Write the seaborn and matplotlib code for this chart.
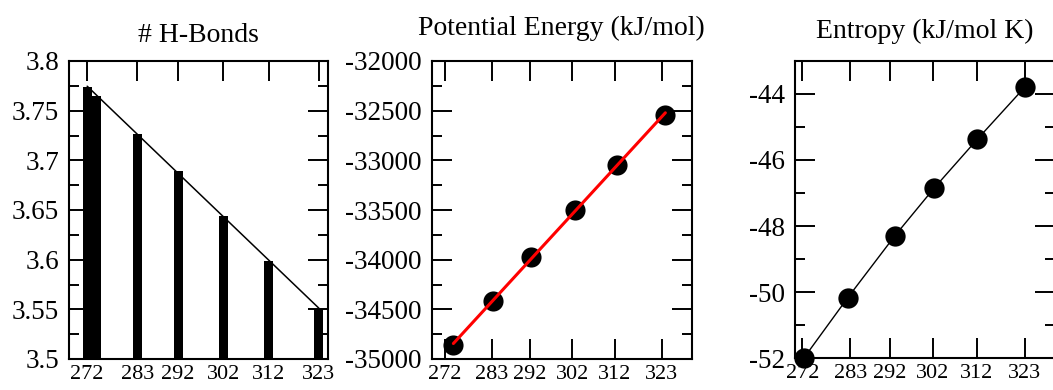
import matplotlib
matplotlib.use("Agg")
import matplotlib.pyplot as plt
from matplotlib.ticker import MultipleLocator, FormatStrFormatter, FuncFormatter
import seaborn as sns

# Hydrogen bonds per molecule vs temperature
hb_temps = [272, 274, 283, 292, 302, 312, 323]
hb_values = [3.7735, 3.765, 3.727, 3.689, 3.644, 3.599, 3.550]

# Potential energy (kJ/mol) vs temperature
pe_temps = [274.0, 283.3, 292.2, 302.6, 312.6, 323.9]
pe_values = [-34860, -34415, -33977, -33501, -33042, -32539]

# Entropy (kJ/mol K) vs temperature
s_temps = [272.4, 282.4, 293.2, 302.2, 312.2, 323.0]
s_values = [-51.98, -50.17, -48.30, -46.86, -45.37, -43.81]

temp_ticks = [272, 283, 292, 302, 312, 323]
titles = ["# H-Bonds", "Potential Energy (kJ/mol)", "Entropy (kJ/mol K)"]

sns.set_style("ticks")
plt.rcParams["font.family"] = ["Liberation Serif", "DejaVu Serif"]
plt.rcParams["axes.unicode_minus"] = False
plt.rcParams["axes.linewidth"] = 1.5
for key in ("text.color", "axes.labelcolor", "xtick.color", "ytick.color",
            "axes.edgecolor"):
    plt.rcParams[key] = "black"

W, H = 1053, 390
fig = plt.figure(figsize=(W / 100, H / 100), dpi=100)


def make_axes(left, right, top=61, bottom=359):
    return fig.add_axes([left / W, 1 - bottom / H, (right - left) / W, (bottom - top) / H])


ax1 = make_axes(69, 328)
ax2 = make_axes(431.7, 691.7)
ax3 = make_axes(795, 1055, top=60.7, bottom=358.3)


def style_axis(ax, title, pad):
    ax.set_xticks(temp_ticks)
    ax.set_xticklabels([str(t) for t in temp_ticks])
    ax.tick_params(which="both", direction="in", top=True, right=True,
                   width=1.4, color="black", labelcolor="black")
    ax.tick_params(which="major", length=14.4)
    ax.tick_params(which="minor", length=7.2)
    ax.tick_params(axis="x", which="minor", top=False, bottom=False)
    ax.tick_params(axis="y", labelsize=19.5, pad=7)
    ax.tick_params(axis="x", labelsize=16, pad=4)
    for sp in ax.spines.values():
        sp.set_visible(True)
        sp.set_color("black")
        sp.set_linewidth(1.5)
    ax.set_xlabel("")
    ax.set_ylabel("")
    ax.set_title(title, fontsize=20, pad=pad, color="black")


# Panel 1: bars with a linear fit
sns.barplot(x=hb_temps, y=hb_values, native_scale=True, orient="x",
            color="black", width=1.0, errorbar=None, saturation=1,
            linewidth=0, ax=ax1)
sns.regplot(x=hb_temps, y=hb_values, scatter=False, ci=None, truncate=True,
            color="black", line_kws={"lw": 1.1, "zorder": 4}, ax=ax1)
ax1.set_xlim(268.0, 325.0)
ax1.set_ylim(3.5, 3.8)
ax1.yaxis.set_major_locator(MultipleLocator(0.05))
ax1.yaxis.set_minor_locator(MultipleLocator(0.025))
ax1.yaxis.set_major_formatter(FuncFormatter(lambda v, p: f"{v:g}"))
style_axis(ax1, titles[0], 14)

# Panel 2: points with a red linear fit
sns.scatterplot(x=pe_temps, y=pe_values, color="black", s=210, linewidth=0,
                zorder=3, ax=ax2)
sns.regplot(x=pe_temps, y=pe_values, scatter=False, ci=None, truncate=True,
            color="red", line_kws={"lw": 2.2, "zorder": 4}, ax=ax2)
ax2.set_xlim(268.9, 330.1)
ax2.set_ylim(-35000, -32000)
ax2.yaxis.set_major_locator(MultipleLocator(500))
ax2.yaxis.set_minor_locator(MultipleLocator(250))
ax2.yaxis.set_major_formatter(FormatStrFormatter("%d"))
style_axis(ax2, titles[1], 19)

# Panel 3: connected points
sns.lineplot(x=s_temps, y=s_values, color="black", lw=1.0, marker="o",
             markersize=14.6, markeredgewidth=0, ax=ax3, zorder=5,
             clip_on=False)
ax3.set_xlim(270.3, 330.0)
ax3.set_ylim(-52, -43)
ax3.yaxis.set_major_locator(MultipleLocator(2))
ax3.yaxis.set_minor_locator(MultipleLocator(1))
ax3.yaxis.set_major_formatter(FormatStrFormatter("%d"))
style_axis(ax3, titles[2], 16.5)

fig.savefig("out.png", dpi=100)
